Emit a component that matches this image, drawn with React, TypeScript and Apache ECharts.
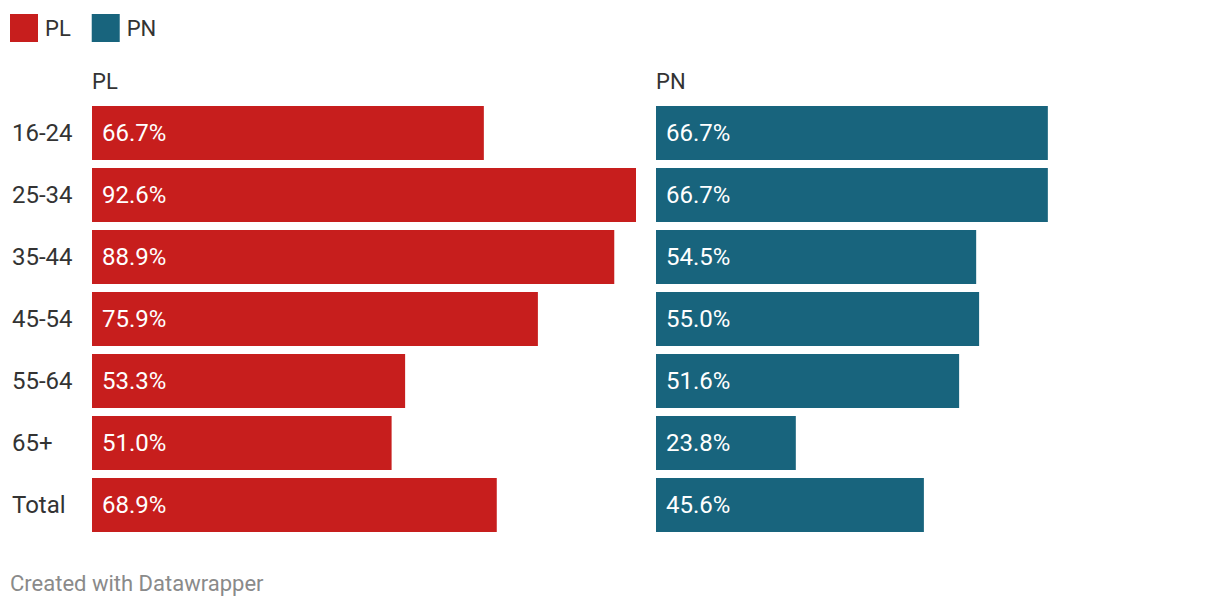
import React, { useEffect, useRef } from "react";
import * as echarts from "echarts";

const categories = ["16-24", "25-34", "35-44", "45-54", "55-64", "65+", "Total"];
const plValues = [66.7, 92.6, 88.9, 75.9, 53.3, 51.0, 68.9];
const pnValues = [66.7, 66.7, 54.5, 55.0, 51.6, 23.8, 45.6];
const seriesNames = ["PL", "PN"];
const colors = ["#c71e1d", "#18647d"];
const footerText = "Created with Datawrapper";

const FONT = "Roboto, 'Noto Sans', sans-serif";

export default function App() {
  const ref = useRef<HTMLDivElement>(null);
  useEffect(() => {
    if (!ref.current) return;
    const chart = echarts.init(ref.current, null, { renderer: "svg" });
    const maxVal = 92.6;
    const grids = [
      { left: 92, top: 102, width: 544, height: 434 },
      { left: 656, top: 102, width: 544, height: 434 },
    ];
    chart.setOption({
      animation: false,
      textStyle: { fontFamily: FONT },
      legend: {
        left: 10,
        top: 14,
        padding: 0,
        itemWidth: 28,
        itemHeight: 28,
        itemGap: 21,
        icon: "rect",
        data: seriesNames,
        textStyle: { fontSize: 22, color: "#333", fontFamily: FONT, padding: [0, 0, 0, 2] },
      },
      title: [
        { text: seriesNames[0], left: 92, top: 70, padding: 0, textStyle: { fontSize: 22, fontWeight: "normal", color: "#333", fontFamily: FONT } },
        { text: seriesNames[1], left: 656, top: 70, padding: 0, textStyle: { fontSize: 22, fontWeight: "normal", color: "#333", fontFamily: FONT } },
        { text: footerText, left: 10, top: 572, padding: 0, textStyle: { fontSize: 22, fontWeight: "normal", color: "#8a8a8a", fontFamily: FONT } },
      ],
      grid: grids,
      xAxis: [0, 1].map((i) => ({
        type: "value",
        gridIndex: i,
        min: 0,
        max: maxVal,
        show: false,
      })),
      yAxis: [0, 1].map((i) => ({
        type: "category",
        gridIndex: i,
        data: categories,
        inverse: true,
        axisLine: { show: false },
        axisTick: { show: false },
        splitLine: { show: false },
        axisLabel: {
          show: i === 0,
          fontSize: 24,
          color: "#333",
          fontFamily: FONT,
          align: "left",
          margin: 80,
        },
      })),
      series: [plValues, pnValues].map((vals, i) => ({
        type: "bar",
        name: seriesNames[i],
        xAxisIndex: i,
        yAxisIndex: i,
        data: vals,
        barWidth: 54,
        itemStyle: { color: colors[i] },
        label: {
          show: true,
          position: "insideLeft",
          distance: 10,
          color: "#fff",
          fontSize: 24,
          fontFamily: FONT,
          formatter: (p: any) => p.value.toFixed(1) + "%",
        },
      })),
    });
    return () => chart.dispose();
  }, []);
  return (
    <div
      ref={ref}
      style={{ position: "fixed", left: 0, top: 0, width: 1220, height: 610, background: "#fff" }}
    />
  );
}
